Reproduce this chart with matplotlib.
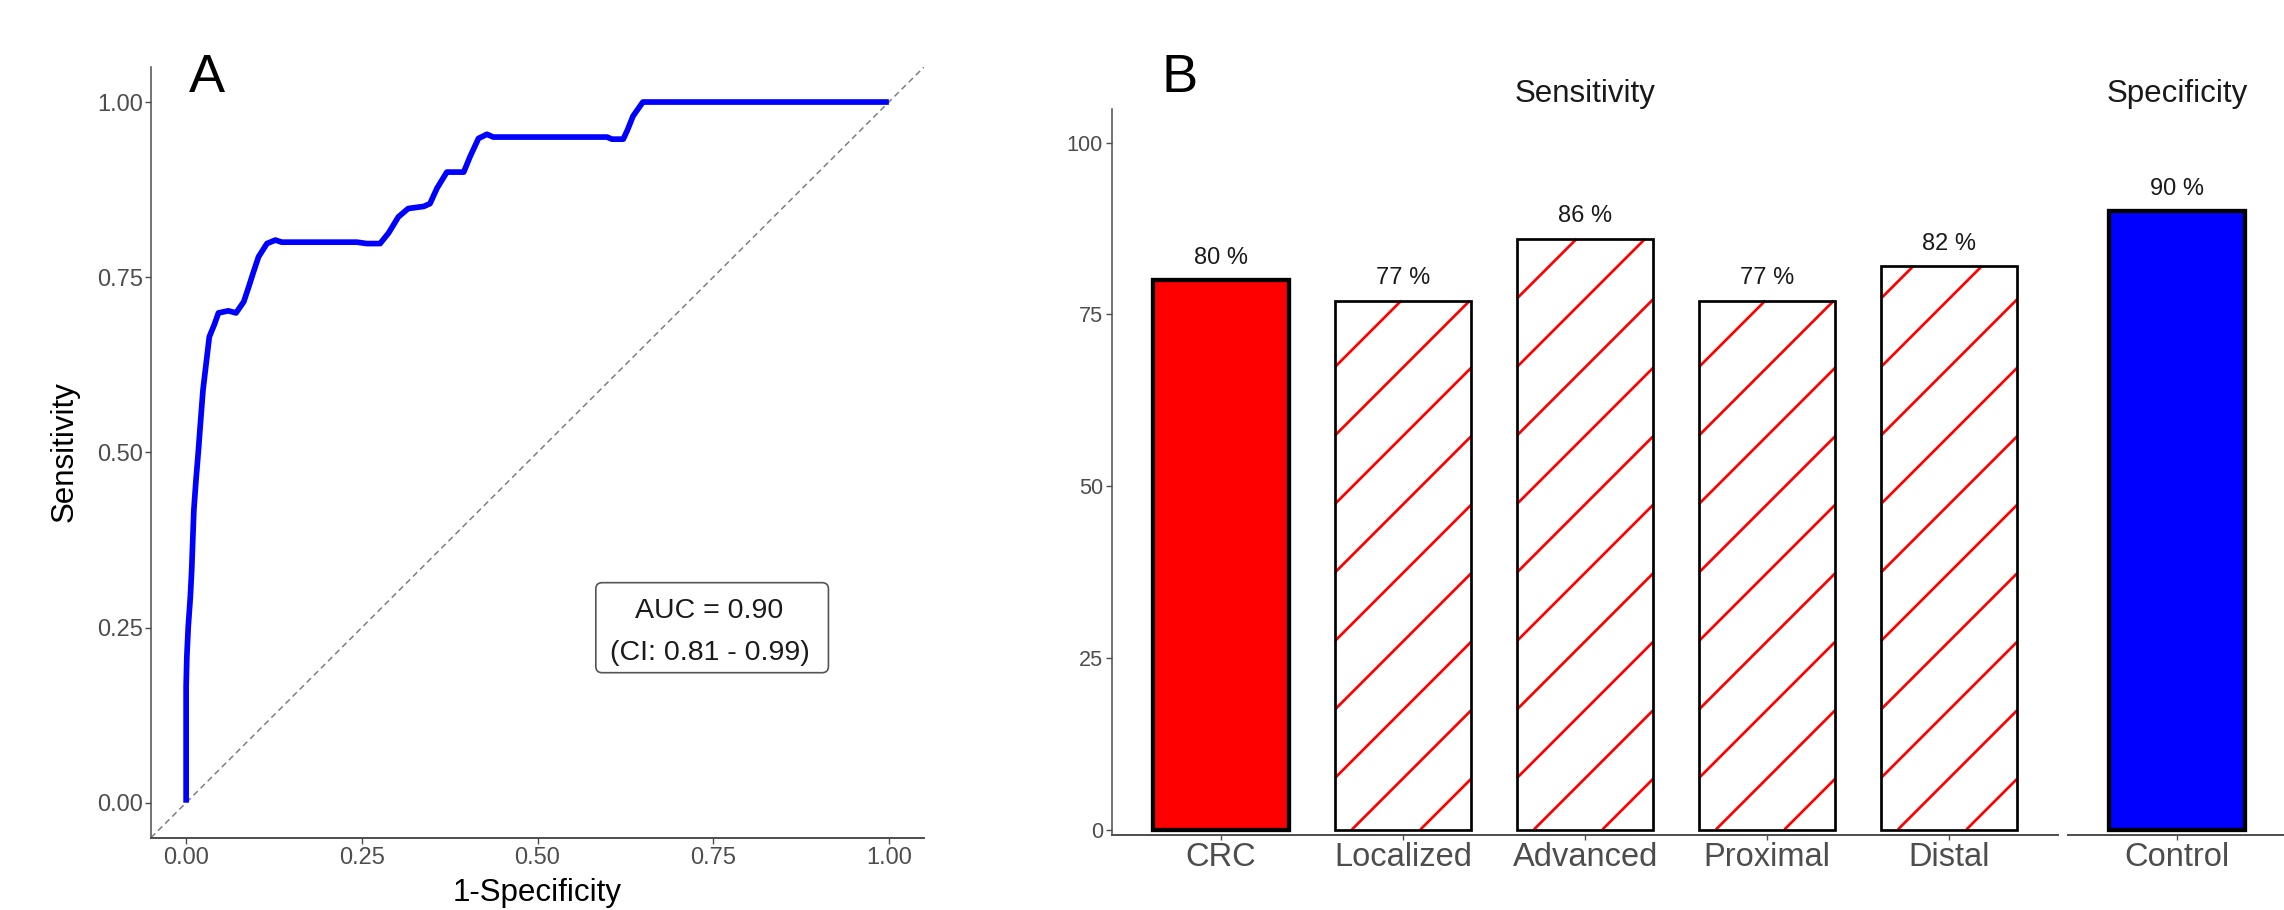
import numpy as np
import matplotlib
matplotlib.use('Agg')
import matplotlib.pyplot as plt
from matplotlib.patches import FancyBboxPatch
from matplotlib.collections import LineCollection
from matplotlib.transforms import IdentityTransform

# ---------------- data ----------------
roc_fpr = [0.0, 0.0, 0.001, 0.003, 0.006, 0.008, 0.0095, 0.011, 0.014, 0.0175,
           0.020, 0.024, 0.0285, 0.033, 0.040, 0.046, 0.060, 0.071, 0.082, 0.089,
           0.096, 0.103, 0.115, 0.127, 0.136, 0.243, 0.257, 0.276, 0.288, 0.302,
           0.316, 0.338, 0.347, 0.357, 0.371, 0.395, 0.404, 0.416, 0.428, 0.437,
           0.599, 0.606, 0.622, 0.628, 0.636, 0.650, 1.0]
roc_tpr = [0.0, 0.166, 0.208, 0.251, 0.294, 0.334, 0.377, 0.418, 0.460, 0.503,
           0.537, 0.589, 0.627, 0.665, 0.682, 0.699, 0.702, 0.699, 0.715, 0.736,
           0.758, 0.779, 0.798, 0.803, 0.800, 0.800, 0.798, 0.798, 0.813, 0.836,
           0.848, 0.851, 0.855, 0.877, 0.900, 0.900, 0.922, 0.948, 0.954, 0.950,
           0.950, 0.947, 0.947, 0.960, 0.980, 1.000, 1.000]
roc_ticks = [0.00, 0.25, 0.50, 0.75, 1.00]
auc_lines = ["AUC = 0.90", "(CI: 0.81 - 0.99)"]

sens_categories = ["CRC", "Localized", "Advanced", "Proximal", "Distal"]
sens_values = [80, 77, 86, 77, 82]
sens_hatched = [False, True, True, True, True]
spec_categories = ["Control"]
spec_values = [90]
bar_ticks = [0, 25, 50, 75, 100]

# ---------------- setup ----------------
W, H, DPI = 2284, 910, 100
plt.rcParams['font.family'] = ['Liberation Sans', 'DejaVu Sans']
plt.rcParams['lines.scale_dashes'] = False
fig = plt.figure(figsize=(W / DPI, H / DPI), dpi=DPI)
fig.patch.set_facecolor('white')

AXIS_GREY = '#4D4D4D'
TEXT_DARK = '#1A1A1A'


def px_axes(left, right, top_img, bottom_img):
    return fig.add_axes([left / W, (H - bottom_img) / H,
                         (right - left) / W, (bottom_img - top_img) / H])


def style_axes(ax, left=True):
    for s in ['top', 'right']:
        ax.spines[s].set_visible(False)
    ax.spines['bottom'].set_color(AXIS_GREY)
    ax.spines['bottom'].set_linewidth(1.4)
    if left:
        ax.spines['left'].set_color(AXIS_GREY)
        ax.spines['left'].set_linewidth(1.1)
    else:
        ax.spines['left'].set_visible(False)
    ax.tick_params(colors=AXIS_GREY, length=4.5, width=1.0, labelcolor=AXIS_GREY)
    ax.set_facecolor('white')


# ---------------- Panel A ----------------
axA = px_axes(151, 924, 67, 837.7)
style_axes(axA)
axA.set_xlim(-0.05, 1.05)
axA.set_ylim(-0.05, 1.05)
axA.plot([-0.05, 1.05], [-0.05, 1.05], color='#7F7F7F', lw=1.1,
         linestyle=(0, (4.3, 2.9)), zorder=1)
axA.plot(roc_fpr, roc_tpr, color='#0000FF', lw=4.1, solid_joinstyle='round',
         solid_capstyle='butt', zorder=3)
axA.set_xticks(roc_ticks)
axA.set_yticks(roc_ticks)
axA.set_xticklabels([f"{t:.2f}" for t in roc_ticks])
axA.set_yticklabels([f"{t:.2f}" for t in roc_ticks])
axA.tick_params(axis='both', labelsize=17)
axA.tick_params(axis='x', pad=2)
axA.tick_params(axis='y', pad=1.5)

box = FancyBboxPatch((0.583, 0.1855), 0.914 - 0.583, 0.314 - 0.1855,
                     boxstyle='round,pad=0,rounding_size=0.009',
                     facecolor='white', edgecolor='#555555', lw=1.2, zorder=4)
axA.add_patch(box)
axA.text(0.744, 0.2636, auc_lines[0], ha='center', va='baseline',
         fontsize=20.5, color=TEXT_DARK, zorder=5)
axA.text(0.745, 0.2037, auc_lines[1], ha='center', va='baseline',
         fontsize=20.5, color=TEXT_DARK, zorder=5)

fig.text(65 / W, 1 - 452 / H, "Sensitivity", rotation=90, ha='center',
         va='center', fontsize=22.5, color='black')
fig.text(537 / W, 1.5 / H, "1-Specificity", ha='center', va='bottom',
         fontsize=22.5, color='black')
fig.text(189 / W, 1 - 91.7 / H, "A", ha='left', va='baseline', fontsize=39,
         color='black')

# ---------------- Panel B ----------------
Y0_IMG, PX_PER_UNIT = 829.5, 6.868
y_bottom = -(835 - Y0_IMG) / PX_PER_UNIT
y_top = (Y0_IMG - 109) / PX_PER_UNIT

axB1 = px_axes(1112, 2058.4, 109, 835)
axB2 = px_axes(2068, 2286.4, 109, 835)
style_axes(axB1)
style_axes(axB2, left=False)
for ax in (axB1, axB2):
    ax.set_ylim(y_bottom, y_top)
    ax.set_autoscale_on(False)
axB1.set_xlim(-0.6, len(sens_categories) - 0.4)
axB2.set_xlim(-0.6, len(spec_categories) - 0.4)

BAR_W = 0.75


def add_stripes(ax, patch, spacing=68.5, offset=17.0, lw=1.95):
    """45-degree red stripes inside a bar, computed in pixel space."""
    x0, y0 = patch.get_xy()
    w, h = patch.get_width(), patch.get_height()
    (X0, Y0), (X1, Y1) = ax.transData.transform([(x0, y0), (x0 + w, y0 + h)])
    # lines: Y = x + c  (display coords, y up)
    c_start = Y0 - (X0 + offset)
    c_min = Y0 - X1
    c_max = Y1 - X0
    k_lo = int(np.floor((c_min - c_start) / spacing)) - 1
    k_hi = int(np.ceil((c_max - c_start) / spacing)) + 1
    segs = []
    for k in range(k_lo, k_hi + 1):
        c = c_start + k * spacing
        xa = max(X0, Y0 - c)
        xb = min(X1, Y1 - c)
        if xb - xa > 0.5:
            segs.append([(xa, xa + c), (xb, xb + c)])
    lc = LineCollection(segs, colors='#FF0000', linewidths=lw,
                        transform=IdentityTransform(), zorder=2,
                        capstyle='butt')
    ax.add_collection(lc, autolim=False)


xs = np.arange(len(sens_categories))
fills = ['#FF0000' if not hz else 'white' for hz in sens_hatched]
base = axB1.bar(xs, sens_values, width=BAR_W, color=fills, linewidth=0, zorder=1)
for patch, hz in zip(base.patches, sens_hatched):
    if hz:
        add_stripes(axB1, patch)
edge_w = [3.1 if not hz else 1.95 for hz in sens_hatched]
axB1.bar(xs, sens_values, width=BAR_W, fill=False, edgecolor='black',
         linewidth=edge_w, zorder=3)
for x, v in zip(xs, sens_values):
    axB1.text(x, v + 2.4, f"{v} %", ha='center', va='baseline', fontsize=17,
              color=TEXT_DARK, zorder=5)

xs2 = np.arange(len(spec_categories))
axB2.bar(xs2, spec_values, width=BAR_W, color='#0000FF', edgecolor='black',
         linewidth=3.1, zorder=3)
for x, v in zip(xs2, spec_values):
    axB2.text(x, v + 2.4, f"{v} %", ha='center', va='baseline', fontsize=17,
              color=TEXT_DARK, zorder=5)

axB1.set_xticks(xs)
axB1.set_xticklabels(sens_categories)
axB2.set_xticks(xs2)
axB2.set_xticklabels(spec_categories)
axB1.set_yticks(bar_ticks)
axB1.set_yticklabels([str(t) for t in bar_ticks])
axB2.set_yticks([])
for ax in (axB1, axB2):
    ax.tick_params(axis='x', labelsize=23.5, pad=1.5, length=3.5)
axB1.tick_params(axis='y', labelsize=15.6, pad=2, length=4.5)

fig.text(1585 / W, 1 - 102 / H, "Sensitivity", ha='center', va='baseline',
         fontsize=22.5, color=TEXT_DARK)
fig.text(2177 / W, 1 - 102 / H, "Specificity", ha='center', va='baseline',
         fontsize=22.5, color=TEXT_DARK)
fig.text(1161 / W, 1 - 92 / H, "B", ha='left', va='baseline', fontsize=39,
         color='black')

fig.savefig('out.png', dpi=DPI, facecolor='white')
